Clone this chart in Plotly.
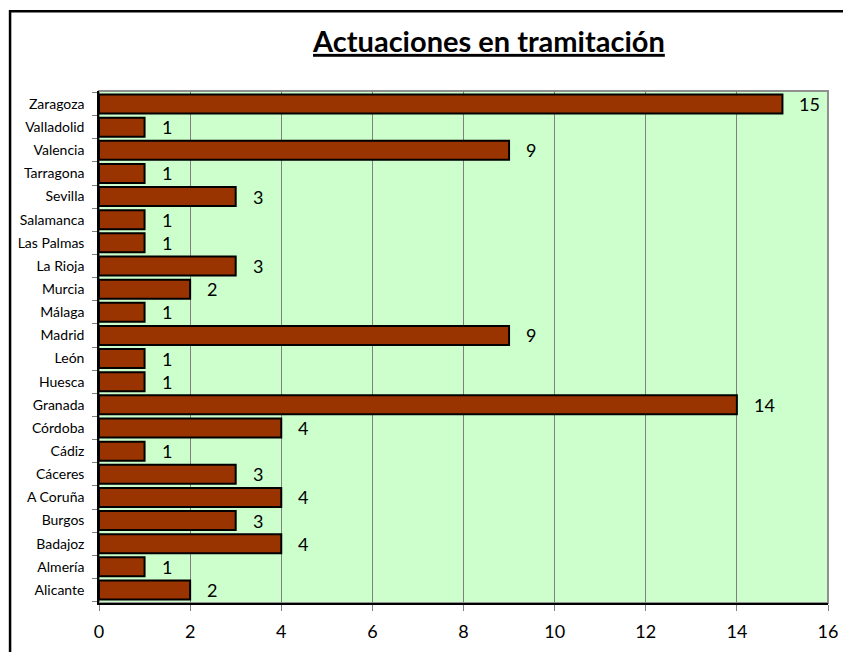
import plotly.graph_objects as go

provincias = ['Alicante', 'Almería', 'Badajoz', 'Burgos', 'A Coruña', 'Cáceres', 'Cádiz',
              'Córdoba', 'Granada', 'Huesca', 'León', 'Madrid', 'Málaga', 'Murcia',
              'La Rioja', 'Las Palmas', 'Salamanca', 'Sevilla', 'Tarragona', 'Valencia',
              'Valladolid', 'Zaragoza']
actuaciones = [2, 1, 4, 3, 4, 3, 1, 4, 14, 1, 1, 9, 1, 2, 3, 1, 1, 3, 1, 9, 1, 15]
x_ticks = [0, 2, 4, 6, 8, 10, 12, 14, 16]

FONT = 'Lato'

fig = go.Figure()
fig.add_trace(go.Bar(
    y=provincias, x=actuaciones, orientation='h',
    marker=dict(color='#993300', line=dict(color='black', width=2)),
    hoverinfo='x+y', showlegend=False))

for p, v in zip(provincias, actuaciones):
    fig.add_annotation(x=v, y=p, text=str(v), showarrow=False, xanchor='left',
                       xshift=15, font=dict(family=FONT, size=18, color='black'))

fig.update_layout(
    width=843, height=652,
    margin=dict(l=99, r=15, t=91, b=49),
    paper_bgcolor='white', plot_bgcolor='#CCFFCC',
    bargap=0.18,
    title=dict(text='<b><u>Actuaciones en tramitación</u></b>', x=0.58, xanchor='center',
               y=0.936, yanchor='middle', font=dict(family=FONT, size=29, color='black')),
    xaxis=dict(range=[0, 16], tickvals=x_ticks, showgrid=True, gridcolor='#808080', gridwidth=1,
               showline=True, linecolor='black', linewidth=1.5, ticks='outside', ticklen=6,
               tickcolor='#808080', zeroline=False, automargin=False, ticklabelstandoff=6,
               tickfont=dict(family=FONT, size=18, color='black')),
    yaxis=dict(showgrid=False, showline=True, linecolor='black', linewidth=1.5,
               ticks='outside', tickson='boundaries', ticklen=5, tickcolor='#808080',
               automargin=False, ticklabelstandoff=10,
               tickfont=dict(family=FONT, size=14, color='black')),
)

# plot area border (grey) and outer chart frame
fig.add_shape(type='rect', xref='paper', yref='paper', x0=0, x1=1, y0=0, y1=1,
              line=dict(color='#909090', width=2), layer='below')
fig.add_shape(type='rect', xref='paper', yref='paper', x0=-0.122, x1=1.05, y0=-0.12, y1=1.156,
              line=dict(color='black', width=2.5))

fig.write_html('out.html', config={'displayModeBar': False},
               post_script="document.body.style.margin='0';")
